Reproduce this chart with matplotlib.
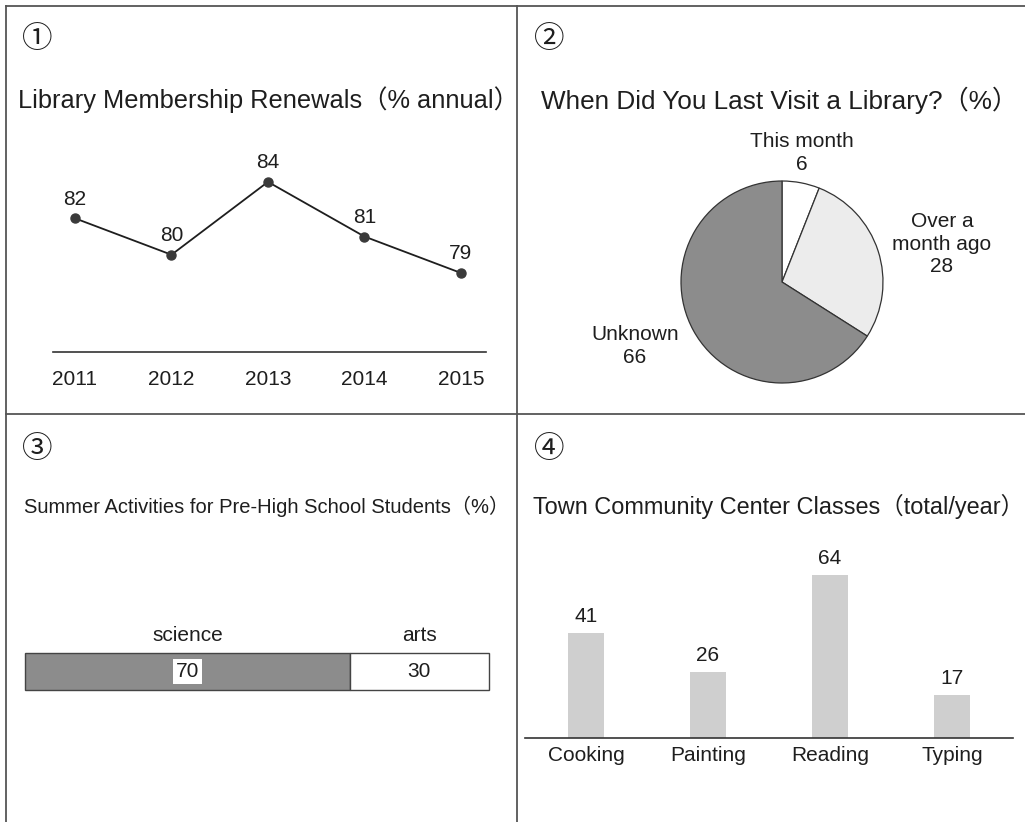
import matplotlib
matplotlib.use("Agg")
import matplotlib.pyplot as plt
from matplotlib.lines import Line2D

plt.rcParams["font.family"] = ["Liberation Sans", "Noto Sans CJK JP", "DejaVu Sans"]
plt.rcParams["text.color"] = "#1e1e1e"

# ---- data ----
years = ["2011", "2012", "2013", "2014", "2015"]
renewals = [82, 80, 84, 81, 79]

visit_labels = ["This month", "Over a\nmonth ago", "Unknown"]
visit_values = [6, 28, 66]

activity_labels = ["science", "arts"]
activity_values = [70, 30]

class_labels = ["Cooking", "Painting", "Reading", "Typing"]
class_values = [41, 26, 64, 17]

W, H = 1025, 822
INK = "#1e1e1e"
DARK = "#8c8c8c"
LIGHT = "#ececec"
BAR = "#cfcfcf"


def fx(x):
    return x / W


def fy(y):
    return 1 - y / H


def axes_px(fig, x0, y0, x1, y1):
    # x0,y0 top-left / x1,y1 bottom-right in pixels
    return fig.add_axes([fx(x0), fy(y1), (x1 - x0) / W, (y1 - y0) / H])


fig = plt.figure(figsize=(W / 100, H / 100), dpi=100)

# panel frame
for (xa, ya), (xb, yb) in [((6, 6), (1025, 6)), ((6, 414), (1025, 414)),
                           ((6, 6), (6, 822)), ((517, 6), (517, 822))]:
    fig.add_artist(Line2D([fx(xa), fx(xb)], [fy(ya), fy(yb)],
                          color="#555555", lw=1.3))

# circled numbers
for s, x, y in [("①", 22, 40), ("②", 534, 40), ("③", 22, 450), ("④", 534, 450)]:
    fig.text(fx(x), fy(y), s, fontsize=22, ha="left", va="center", color=INK)

# titles
fig.text(fx(18), fy(100), "Library Membership Renewals（% annual）",
         fontsize=18.3, ha="left", va="center", color=INK)
fig.text(fx(541), fy(100), "When Did You Last Visit a Library?（%）",
         fontsize=18.8, ha="left", va="center", color=INK)
fig.text(fx(24), fy(506), "Summer Activities for Pre-High School Students（%）",
         fontsize=14.5, ha="left", va="center", color=INK)
fig.text(fx(533), fy(506), "Town Community Center Classes（total/year）",
         fontsize=16.9, ha="left", va="center", color=INK)

# ---- 1: line chart ----
ax1 = axes_px(fig, 53, 140, 486, 352)
xs = range(len(years))
ax1.plot(xs, renewals, color=INK, lw=1.3, marker="o", ms=6.5,
         mfc="#3a3a3a", mec="#3a3a3a")
for x, v in zip(xs, renewals):
    ax1.annotate(str(v), (x, v), xytext=(0, 7), textcoords="offset points",
                 ha="center", va="bottom", fontsize=15, color=INK)
ax1.set_xlim(-0.228, 4.26)
ax1.set_ylim(74.66, 86.3)
ax1.set_xticks(list(xs))
ax1.set_xticklabels(years, fontsize=15, color=INK)
ax1.tick_params(axis="x", length=0, pad=13)
ax1.set_yticks([])
for side in ["top", "left", "right"]:
    ax1.spines[side].set_visible(False)
ax1.spines["bottom"].set_color("#333333")
ax1.spines["bottom"].set_linewidth(1.2)
ax1.patch.set_alpha(0)

# ---- 2: pie ----
ax2 = axes_px(fig, 680, 180, 884, 384)
ax2.pie(visit_values, colors=["white", LIGHT, DARK], startangle=90,
        counterclock=False, radius=1,
        wedgeprops=dict(edgecolor="#333333", linewidth=0.9))
ax2.set_xlim(-1.01, 1.01)
ax2.set_ylim(-1.01, 1.01)
ax2.set_aspect("equal")
for (tx, ty), lab, v in zip([(802, 153), (942, 244), (635, 346)],
                            visit_labels, visit_values):
    fig.text(fx(tx), fy(ty), f"{lab}\n{v}", fontsize=15, ha="center",
             va="center", linespacing=1.25, color=INK)

# ---- 3: stacked bar ----
ax3 = axes_px(fig, 25, 653, 489, 690)
left = 0
for lab, v, c in zip(activity_labels, activity_values, [DARK, "white"]):
    ax3.barh(0, v, left=left, height=1, color=c, edgecolor="#444444", lw=1,
             clip_on=False)
    mid = left + v / 2
    box = dict(facecolor="white", edgecolor="none", pad=2) if c == DARK else None
    ax3.text(mid, 0, str(v), ha="center", va="center", fontsize=15,
             color=INK, bbox=box)
    ax3.annotate(lab, (mid, 0.5), xytext=(0, 6), textcoords="offset points",
                 ha="center", va="bottom", fontsize=15, color=INK)
    left += v
ax3.set_xlim(0, 100)
ax3.set_ylim(-0.5, 0.5)
ax3.axis("off")

# ---- 4: bar chart ----
ax4 = axes_px(fig, 525, 560, 1013, 738)
xb = range(len(class_labels))
bars = ax4.bar(xb, class_values, width=0.30, color=BAR, edgecolor="none")
for b, v in zip(bars, class_values):
    ax4.annotate(str(v), (b.get_x() + b.get_width() / 2, v), xytext=(0, 5),
                 textcoords="offset points", ha="center", va="bottom",
                 fontsize=15, color=INK)
ax4.set_xlim(-0.5, 3.5)
ax4.set_ylim(0, 69.8)
ax4.set_xticks(list(xb))
ax4.set_xticklabels(class_labels, fontsize=15, color=INK)
ax4.tick_params(axis="x", length=0, pad=6)
ax4.set_yticks([])
for side in ["top", "left", "right"]:
    ax4.spines[side].set_visible(False)
ax4.spines["bottom"].set_color("#333333")
ax4.spines["bottom"].set_linewidth(1.2)
ax4.patch.set_alpha(0)

fig.savefig("out.png", dpi=100)
